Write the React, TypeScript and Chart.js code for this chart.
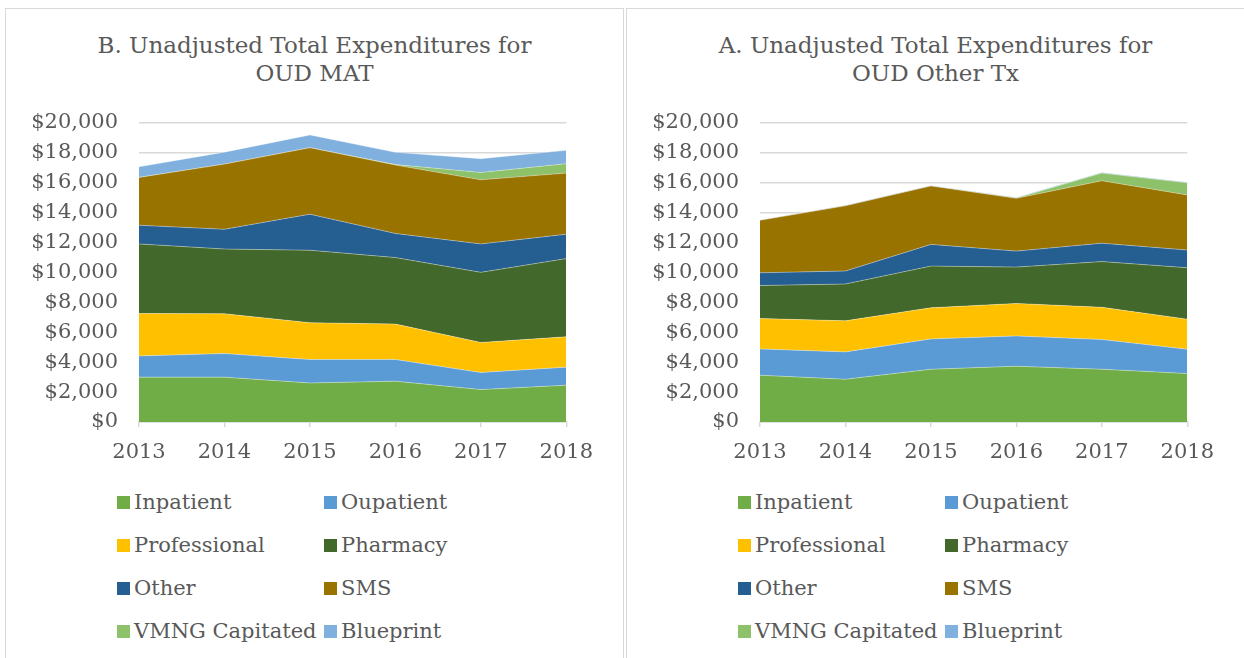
import React, { useEffect, useRef } from "react";
import { Chart, registerables } from "chart.js";

Chart.register(...registerables);

const years = ["2013", "2014", "2015", "2016", "2017", "2018"];
const seriesNames = ["Inpatient", "Oupatient", "Professional", "Pharmacy", "Other", "SMS", "VMNG Capitated", "Blueprint"];
const seriesColors = ["#70AD47", "#5B9BD5", "#FFC000", "#43682B", "#255E91", "#997300", "#8DC16A", "#7FB0DE"];
const yTicks = [0, 2000, 4000, 6000, 8000, 10000, 12000, 14000, 16000, 18000, 20000];

// B. OUD MAT
const matInpatient = [3000, 3000, 2610, 2730, 2170, 2460];
const matOutpatient = [1420, 1580, 1570, 1450, 1140, 1210];
const matProfessional = [2840, 2660, 2460, 2370, 2010, 2030];
const matPharmacy = [4650, 4330, 4850, 4450, 4690, 5230];
const matOther = [1250, 1320, 2410, 1610, 1900, 1630];
const matSMS = [3200, 4360, 4450, 4580, 4290, 4090];
const matVMNG = [0, 0, 0, 30, 490, 630];
const matBlueprint = [710, 800, 850, 820, 920, 890];

// A. OUD Other Tx
const othInpatient = [3130, 2860, 3530, 3730, 3530, 3240];
const othOutpatient = [1760, 1830, 2030, 2030, 1990, 1630];
const othProfessional = [2030, 2080, 2080, 2170, 2150, 2010];
const othPharmacy = [2210, 2460, 2790, 2430, 3060, 3440];
const othOther = [850, 870, 1450, 1070, 1230, 1180];
const othSMS = [3510, 4360, 3910, 3530, 4180, 3690];
const othVMNG = [0, 0, 0, 20, 510, 810];
const othBlueprint = [30, 30, 30, 30, 40, 30];

const FONT = "'DejaVu Serif', 'Liberation Serif', serif";
const TEXT = "#595959";
const GRID = "#d9d9d9";

const CANVAS_W = 600;
const CANVAS_H = 472;
const AREA_LEFT = 133;
const AREA_TOP = 114;
const AREA_BOTTOM = 413;
const AREA_RIGHT = 562;

function Panel({ left, titleLines, series }: { left: number; titleLines: string[]; series: number[][] }) {
  const ref = useRef<HTMLCanvasElement>(null);
  useEffect(() => {
    if (!ref.current) return;
    const chart = new Chart(ref.current, {
      type: "line",
      data: {
        labels: years,
        datasets: series.map((vals, i) => ({
          label: seriesNames[i],
          data: vals,
          backgroundColor: seriesColors[i],
          borderColor: "rgba(255,255,255,0.35)",
          borderWidth: 1,
          fill: i === 0 ? "origin" : "-1",
          pointRadius: 0,
          tension: 0,
        })),
      },
      options: {
        animation: false,
        responsive: false,
        maintainAspectRatio: false,
        layout: { padding: { left: 0, top: AREA_TOP, right: CANVAS_W - AREA_RIGHT, bottom: 0 } },
        plugins: { legend: { display: false }, tooltip: { enabled: false }, title: { display: false } },
        scales: {
          x: {
            type: "category",
            offset: false,
            grid: { display: true, drawOnChartArea: false, drawTicks: true, tickLength: 5, color: GRID, lineWidth: 1.5 },
            border: { display: true, color: GRID, width: 1.5 },
            ticks: { color: TEXT, font: { family: FONT, size: 21 }, padding: 13, maxRotation: 0 },
            afterFit: (s: any) => { s.height = CANVAS_H - AREA_BOTTOM; },
          },
          y: {
            stacked: true,
            min: 0,
            max: 20000,
            afterBuildTicks: (s: any) => { s.ticks = yTicks.map((v) => ({ value: v })); },
            grid: { color: GRID, lineWidth: 1.5, drawTicks: false },
            border: { display: false },
            ticks: {
              color: TEXT,
              font: { family: FONT, size: 21 },
              padding: 21,
              callback: (v: any) => "$" + Number(v).toLocaleString("en-US"),
            },
            afterFit: (s: any) => { s.width = AREA_LEFT; },
          },
        },
      },
    });
    return () => chart.destroy();
  }, []);

  const legendRows = [0, 1, 2, 3];
  return (
    <div
      style={{
        position: "absolute",
        left,
        top: 8,
        width: 617,
        height: 680,
        border: "1px solid #d9d9d9",
        background: "#fff",
        boxSizing: "content-box",
      }}
    >
      <div
        style={{
          position: "absolute",
          left: 0,
          top: 22,
          width: 617,
          textAlign: "center",
          fontFamily: FONT,
          fontSize: 23,
          lineHeight: "28px",
          color: TEXT,
        }}
      >
        {titleLines.map((t, i) => (
          <div key={i}>{t}</div>
        ))}
      </div>
      <canvas ref={ref} width={CANVAS_W} height={CANVAS_H} style={{ position: "absolute", left: 0, top: 0, width: CANVAS_W, height: CANVAS_H }} />
      {legendRows.map((r) =>
        [0, 1].map((c) => {
          const idx = r * 2 + c;
          return (
            <div
              key={idx}
              style={{
                position: "absolute",
                left: 111 + c * 207,
                top: 480 + r * 43,
                height: 26,
                display: "flex",
                alignItems: "center",
                fontFamily: FONT,
                fontSize: 21,
                color: TEXT,
                whiteSpace: "nowrap",
              }}
            >
              <span style={{ display: "inline-block", width: 13, height: 13, background: seriesColors[idx], marginRight: 4 }} />
              <span>{seriesNames[idx]}</span>
            </div>
          );
        })
      )}
    </div>
  );
}

export default function App() {
  return (
    <div style={{ position: "fixed", left: 0, top: 0, width: 1244, height: 658, overflow: "hidden", background: "#fff" }}>
      <Panel
        left={5}
        titleLines={["B. Unadjusted Total Expenditures for", "OUD MAT"]}
        series={[matInpatient, matOutpatient, matProfessional, matPharmacy, matOther, matSMS, matVMNG, matBlueprint]}
      />
      <Panel
        left={626}
        titleLines={["A. Unadjusted Total Expenditures for", "OUD Other Tx"]}
        series={[othInpatient, othOutpatient, othProfessional, othPharmacy, othOther, othSMS, othVMNG, othBlueprint]}
      />
    </div>
  );
}
